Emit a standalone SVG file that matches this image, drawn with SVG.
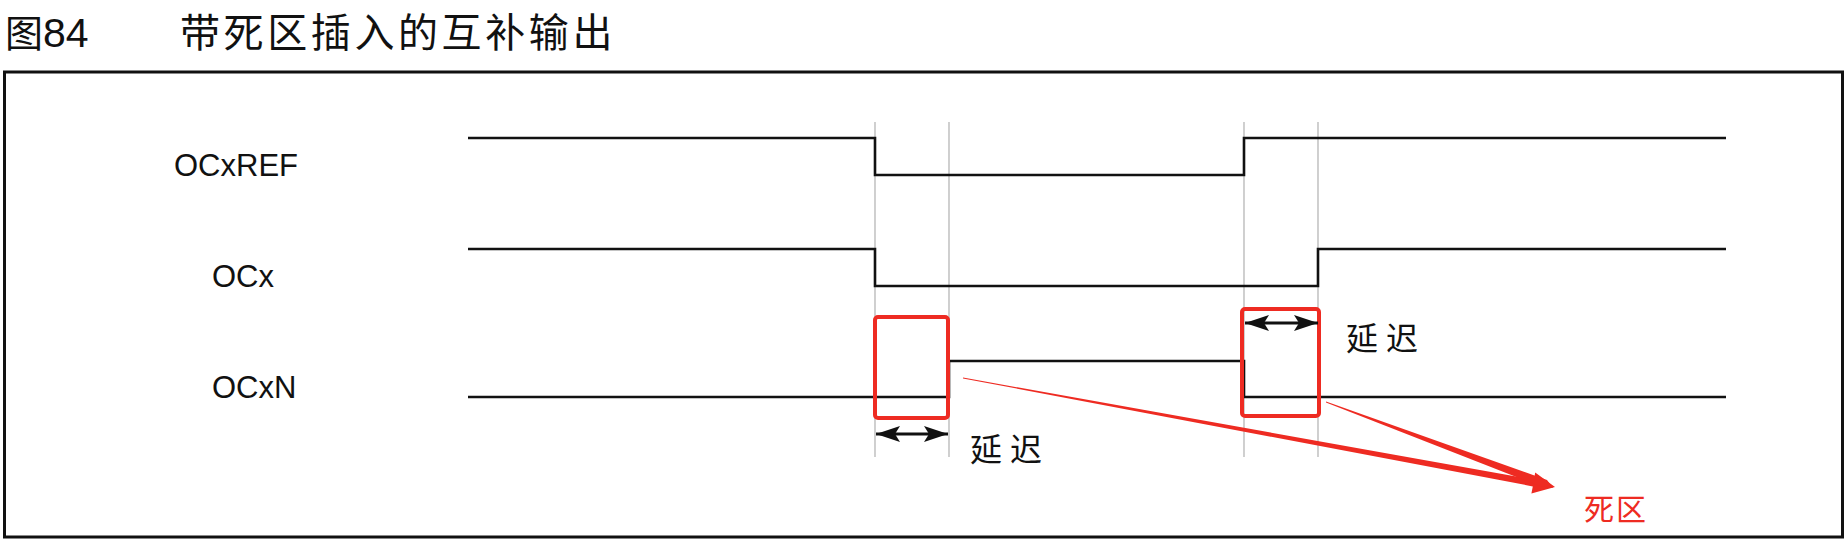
<svg xmlns="http://www.w3.org/2000/svg" width="1848" height="541" viewBox="0 0 1848 541">
  <style>
    .sig { fill: none; stroke: #111; stroke-width: 2.6; stroke-linejoin: miter; }
    .guide { stroke: #c4c4c4; stroke-width: 1.6; }
    .lbl { font-family: "Liberation Sans", Arial, sans-serif; font-size: 31px; fill: #111; }
    .cjk { font-family: "Noto Sans CJK SC", sans-serif; fill: #111; }
    .dz { fill: none; stroke: #ee2b22; stroke-width: 4; }
    .red { fill: #ee2b22; }
    .dim { stroke: #111; stroke-width: 3; marker-start: url(#dh); marker-end: url(#dh); }
  </style>
  <defs>
    <marker id="dh" viewBox="0 0 24 16" refX="24" refY="8" markerWidth="24" markerHeight="16" markerUnits="userSpaceOnUse" orient="auto-start-reverse">
      <path d="M0,0 L24,8 L0,16 L5,8 z" fill="#111"/>
    </marker>
  </defs>
  <rect width="1848" height="541" fill="#fff"/>

  <g id="title">
    <text x="5" y="47" class="cjk" font-size="38">图<tspan font-family="Liberation Sans, Arial, sans-serif" font-size="41">84</tspan></text>
    <text x="180" y="47" class="cjk" font-size="40" letter-spacing="3.6">带死区插入的互补输出</text>
  </g>

  <rect id="frame" x="4.5" y="72" width="1838" height="465" fill="none" stroke="#111" stroke-width="3"/>

  <g id="guides">
    <line class="guide" x1="875" y1="122" x2="875" y2="457"/>
    <line class="guide" x1="949" y1="122" x2="949" y2="457"/>
    <line class="guide" x1="1244" y1="122" x2="1244" y2="457"/>
    <line class="guide" x1="1318" y1="122" x2="1318" y2="457"/>
  </g>

  <g id="ocxref">
    <text class="lbl" x="174" y="176">OCxREF</text>
    <path class="sig" d="M468,138 H875 V175 H1244 V138 H1726"/>
  </g>
  <g id="ocx">
    <text class="lbl" x="212" y="287">OCx</text>
    <path class="sig" d="M468,249 H875 V286 H1318 V249 H1726"/>
  </g>
  <g id="ocxn">
    <text class="lbl" x="212" y="398">OCxN</text>
    <path class="sig" d="M468,397 H949 V361 H1244 V397 H1726"/>
  </g>

  <g id="deadzone1">
    <rect class="dz" x="875" y="317" width="73" height="101" rx="3"/>
  </g>
  <g id="deadzone2">
    <rect class="dz" x="1242" y="309" width="77" height="107" rx="3"/>
  </g>

  <g id="delay1">
    <line class="dim" x1="876" y1="434" x2="948" y2="434"/>
    <text class="cjk" x="970" y="461" font-size="32" letter-spacing="8">延迟</text>
  </g>
  <g id="delay2">
    <line class="dim" x1="1245" y1="323" x2="1318" y2="323"/>
    <text class="cjk" x="1346" y="350" font-size="32" letter-spacing="8">延迟</text>
  </g>

  <g id="deadzone-label">
    <text class="cjk" x="1584" y="520" font-size="30" letter-spacing="2" style="fill:#ee2b22">死区</text>
  </g>

  <g id="connectors">
    <polygon class="red" points="963,377.6 1534.0,479.6 1535.2,472.6 1555,487 1531.4,493.4 1532.8,486.4 963,378.4"/>
    <polygon class="red" points="1326,401.6 1547,480 1553,488 1541,486.5 1326,402.4"/>
  </g>
</svg>
